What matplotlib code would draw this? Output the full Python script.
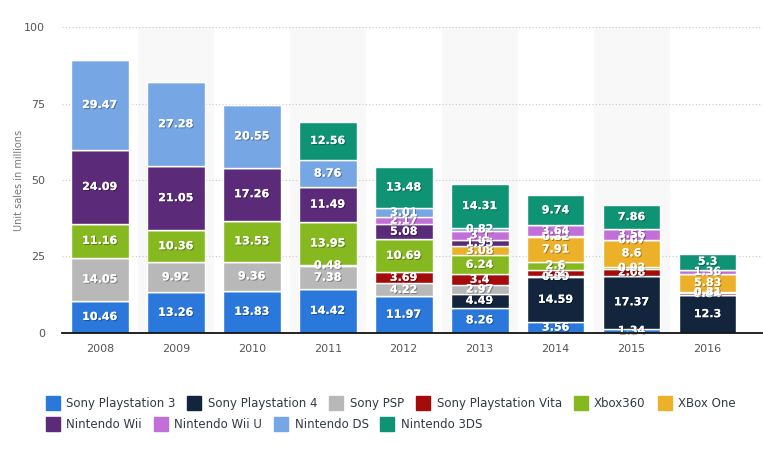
"""Console unit sales per year, stacked bars"""
import numpy as np
import matplotlib
matplotlib.use("Agg")
import matplotlib.pyplot as plt
from matplotlib.lines import Line2D
import matplotlib.patheffects as pe

years = ["2008", "2009", "2010", "2011", "2012", "2013", "2014", "2015", "2016"]

ps3 = [10.46, 13.26, 13.83, 14.42, 11.97, 8.26, 3.56, 1.34, 0]
ps4 = [0, 0, 0, 0, 0, 4.49, 14.59, 17.37, 12.3]
psp = [14.05, 9.92, 9.36, 7.38, 4.22, 2.97, 0.39, 0, 0]
vita = [0, 0, 0, 0.48, 3.69, 3.4, 2.2, 2.08, 0.84]
xbox360 = [11.16, 10.36, 13.53, 13.95, 10.69, 6.24, 2.6, 0.93, 0.31]
xbox_one = [0, 0, 0, 0, 0, 3.08, 7.91, 8.6, 5.83]
wii = [24.09, 21.05, 17.26, 11.49, 5.08, 1.95, 0.32, 0.07, 0]
wii_u = [0, 0, 0, 0, 2.17, 3.1, 3.64, 3.56, 1.36]
ds = [29.47, 27.28, 20.55, 8.76, 3.01, 0.82, 0, 0, 0]
n3ds = [0, 0, 0, 12.56, 13.48, 14.31, 9.74, 7.86, 5.3]

series = [
    ("Sony Playstation 3", ps3, "#2a78db"),
    ("Sony Playstation 4", ps4, "#12253c"),
    ("Sony PSP", psp, "#b8b8b8"),
    ("Sony Playstation Vita", vita, "#a50b0b"),
    ("Xbox360", xbox360, "#86b91f"),
    ("XBox One", xbox_one, "#ecb128"),
    ("Nintendo Wii", wii, "#5b2a78"),
    ("Nintendo Wii U", wii_u, "#c36fd9"),
    ("Nintendo DS", ds, "#77a6e4"),
    ("Nintendo 3DS", n3ds, "#0f9375"),
]

fig = plt.figure(figsize=(7.63, 4.61), dpi=100)
ax = fig.add_axes([0.081, 0.2777, 0.918, 0.6637])

x = np.arange(len(years))

# light column bands behind every other year
for i in x:
    if i % 2 == 1:
        ax.axvspan(i - 0.5, i + 0.5, color="#f8f8f8", zorder=0, lw=0)

shadow = [pe.withSimplePatchShadow(offset=(0.8, -0.8), shadow_rgbFace="black", alpha=0.3), pe.Normal()]
bottom = np.zeros(len(years))
for name, vals, col in series:
    vals = np.array(vals, dtype=float)
    ax.bar(x, vals, 0.76, bottom=bottom, color=col, edgecolor="white", linewidth=1, zorder=3)
    for i, v in enumerate(vals):
        if v > 0:
            ax.text(x[i], bottom[i] + v / 2, f"{v:g}", ha="center", va="center", color="white",
                    fontsize=8, fontweight="bold", zorder=5, path_effects=shadow)
    bottom += vals

ax.set_xlim(-0.5, 8.72)
ax.set_ylim(0, 100)
ax.set_yticks([0, 25, 50, 75, 100])
ax.set_xticks(x)
ax.set_xticklabels(years)
ax.tick_params(axis="both", length=0, labelsize=8, colors="#555555")
ax.tick_params(axis="x", pad=8)
ax.tick_params(axis="y", pad=12)
ax.grid(axis="y", color="#c8c8c8", linestyle=(0, (1, 2)), linewidth=0.8, zorder=1)
ax.set_axisbelow(True)
for s in ["top", "right", "left"]:
    ax.spines[s].set_visible(False)
ax.spines["bottom"].set_color("#111111")
ax.spines["bottom"].set_linewidth(1.3)
ax.spines["bottom"].set_zorder(6)
ax.set_ylabel("Unit sales in millions", fontsize=7, color="#777777", labelpad=0)

# legend in two rows, packed like the original
def make_handles(items):
    return [Line2D([], [], marker="s", linestyle="none", markersize=10, markerfacecolor=c,
                   markeredgecolor=c) for _, _, c in items]

row1 = series[:6]
row2 = series[6:]
leg_kw = dict(frameon=False, fontsize=8.5, handletextpad=0.65, columnspacing=1.1,
              handlelength=1.0, borderaxespad=0, labelcolor="#333a45")
leg1 = fig.legend(make_handles(row1), [n for n, _, _ in row1], ncol=6,
                  loc="upper left", bbox_to_anchor=(0.055, 0.1485), **leg_kw)
leg2 = fig.legend(make_handles(row2), [n for n, _, _ in row2], ncol=4,
                  loc="upper left", bbox_to_anchor=(0.055, 0.1025), **leg_kw)

fig.savefig("out.png", dpi=100)
